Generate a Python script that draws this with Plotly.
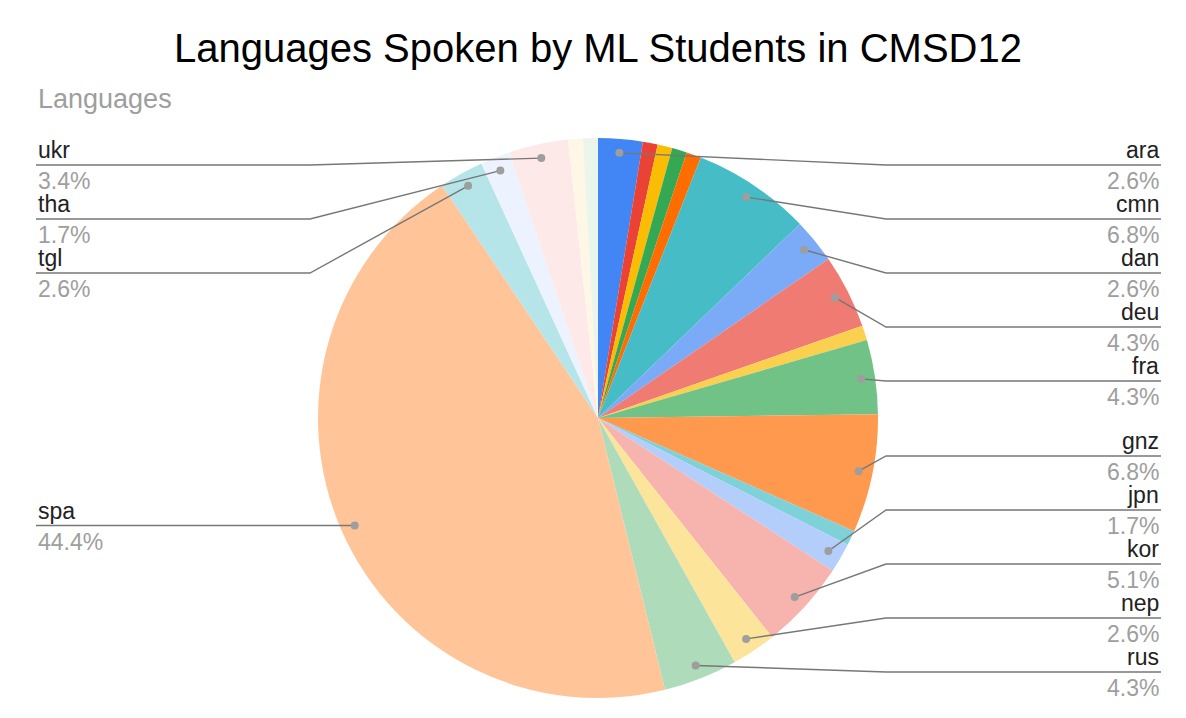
import math
import plotly.graph_objects as go

# Data (117 answers); tiny slices carry no label in the picture
languages = ["ara", "ben", "bul", "cat", "ces", "cmn", "dan", "deu", "ell", "fra", "gnz",
             "hin", "jpn", "kor", "nep", "rus", "spa", "tgl", "tha", "ukr", "urd", "vie"]
speakers = [3, 1, 1, 1, 1, 8, 3, 5, 1, 5, 8, 1, 2, 6, 3, 5, 52, 3, 2, 4, 1, 1]
colors = ["#4285f4", "#ea4335", "#fbbc04", "#34a853", "#ff6d01", "#46bdc6", "#7baaf7",
          "#f07b72", "#fcd04f", "#71c287", "#ff994d", "#7ed1d7", "#b3cefb", "#f7b4ae",
          "#fde49b", "#aedcba", "#ffc599", "#b5e5e8", "#ecf3fe", "#fde9e7", "#fff7e6",
          "#eaf5ec"]

W, H = 1186, 718
PAGE = 8               # browser body margin around the plot
CX, CY, R = 598, 418, 280
FONT = "Arial, Liberation Sans, sans-serif"
MIN_PCT = 1.0          # slices under this get no label
LABEL_GAP = 54
LABEL_TOP, LABEL_BOTTOM = 165, 672

FW, FH = W - 2 * PAGE, H - 2 * PAGE


# window pixels -> paper fractions
def px(x):
    return (x - PAGE) / FW


def py(y):
    return 1 - (y - PAGE) / FH


total = sum(speakers)
fig = go.Figure(go.Pie(
    labels=languages,
    values=speakers,
    sort=False,
    direction="clockwise",
    rotation=0,
    marker=dict(colors=colors, line=dict(width=0)),
    textinfo="none",
    showlegend=False,
    domain=dict(x=[px(CX - R), px(CX + R)], y=[py(CY + R), py(CY - R)]),
))

# where each labelled slice gets its dot
left, right = [], []
cum = 0
for name, v in zip(languages, speakers):
    mid = (cum + v / 2) / total * 2 * math.pi
    cum += v
    pct = v / total * 100
    if pct < MIN_PCT:
        continue
    dx = CX + 0.95 * R * math.sin(mid)
    dy = CY - 0.95 * R * math.cos(mid)
    item = {"name": name, "pct": pct, "dx": dx, "dy": dy}
    (right if mid < math.pi else left).append(item)


def place(items):
    items.sort(key=lambda d: d["dy"])
    prev = None
    for it in items:
        y = max(it["dy"], LABEL_TOP)
        if prev is not None:
            y = max(y, prev + LABEL_GAP)
        it["ly"] = y
        prev = y
    nxt = None
    for it in reversed(items):
        y = min(it["ly"], LABEL_BOTTOM)
        if nxt is not None:
            y = min(y, nxt - LABEL_GAP)
        it["ly"] = y
        nxt = y


place(left)
place(right)

shapes, annotations = [], []
for side, items in (("left", left), ("right", right)):
    text_x = 36 if side == "left" else 1161
    elbow_x = CX - 288 if side == "left" else CX + 288
    anchor = "left" if side == "left" else "right"
    for it in items:
        ly = it["ly"]
        shapes.append(dict(
            type="path", xref="paper", yref="paper", layer="above",
            path=f"M {px(text_x)},{py(ly)} L {px(elbow_x)},{py(ly)} L {px(it['dx'])},{py(it['dy'])}",
            line=dict(color="#777777", width=1.4),
        ))
        shapes.append(dict(
            type="circle", xref="paper", yref="paper", layer="above",
            xsizemode="pixel", ysizemode="pixel",
            xanchor=px(it["dx"]), yanchor=py(it["dy"]),
            x0=-4, x1=4, y0=-4, y1=4,
            fillcolor="#9e9e9e", line=dict(width=0),
        ))
        annotations.append(dict(
            text=it["name"], x=px(text_x), y=py(ly - 15), xref="paper", yref="paper",
            xanchor=anchor, yanchor="middle", showarrow=False,
            font=dict(family=FONT, size=23, color="#222222"),
        ))
        annotations.append(dict(
            text=f"{it['pct']:.1f}%", x=px(text_x), y=py(ly + 16), xref="paper", yref="paper",
            xanchor=anchor, yanchor="middle", showarrow=False,
            font=dict(family=FONT, size=23, color="#9e9e9e"),
        ))

annotations.append(dict(
    text="Languages", x=px(36), y=py(99), xref="paper", yref="paper",
    xanchor="left", yanchor="middle", showarrow=False,
    font=dict(family=FONT, size=27, color="#9e9e9e"),
))

fig.update_layout(
    width=FW, height=FH,
    margin=dict(l=0, r=0, t=0, b=0),
    paper_bgcolor="white",
    title=dict(text="Languages Spoken by ML Students in CMSD12",
               x=px(598), xanchor="center", y=py(48), yanchor="middle",
               font=dict(family=FONT, size=40, color="#000000")),
    shapes=shapes,
    annotations=annotations,
)

fig.write_html("out.html")
